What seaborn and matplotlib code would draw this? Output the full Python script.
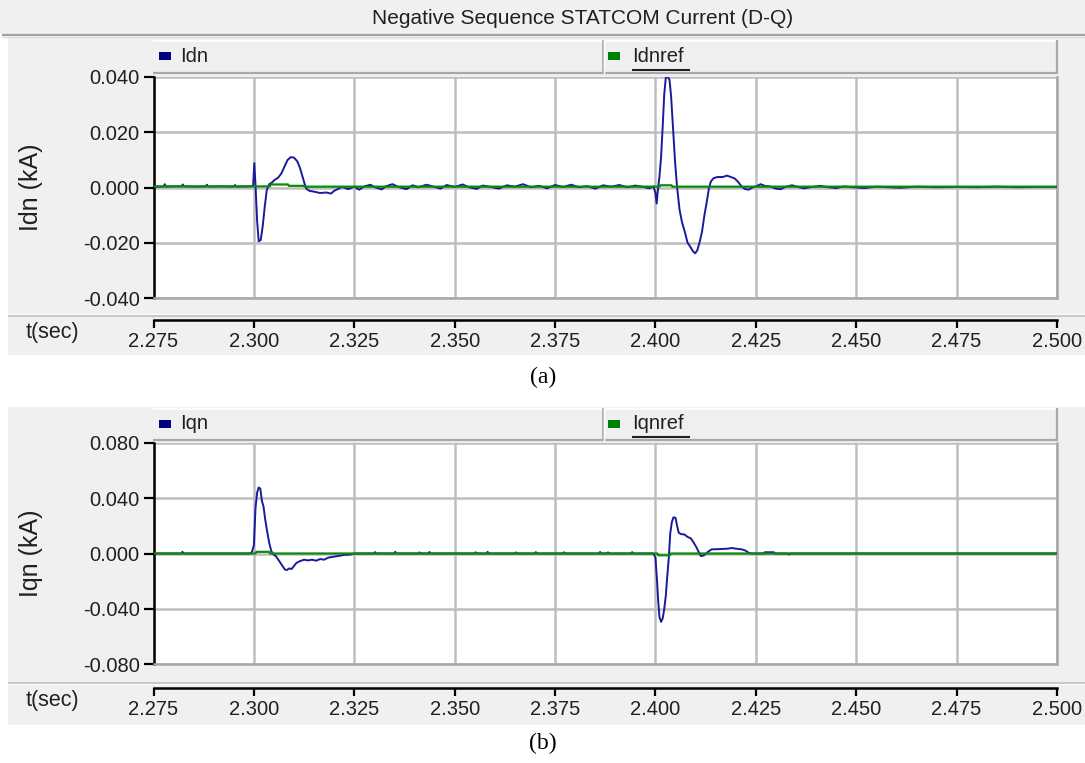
import numpy as np
import pandas as pd
import seaborn as sns
import matplotlib
matplotlib.use("Agg")
import matplotlib.pyplot as plt
from matplotlib.patches import Rectangle
from matplotlib.lines import Line2D

# ---------------- data ----------------
title = "Negative Sequence STATCOM Current (D-Q)"
x_ticks = [2.275, 2.300, 2.325, 2.350, 2.375, 2.400, 2.425, 2.450, 2.475, 2.500]
x_tick_labels = ["2.275", "2.300", "2.325", "2.350", "2.375", "2.400", "2.425", "2.450", "2.475", "2.500"]
yticks_a = [-0.040, -0.020, 0.000, 0.020, 0.040]
yticks_b = [-0.080, -0.040, 0.000, 0.040, 0.080]

t_idn = [2.2750, 2.2775, 2.2778, 2.2781, 2.2800, 2.2820, 2.2823, 2.2826, 2.2860, 2.2880, 2.2883, 2.2886,
         2.2920, 2.2950, 2.2953, 2.2956, 2.2990,
         2.2998, 2.3001, 2.3004, 2.3008, 2.3012, 2.3017, 2.3022, 2.3027, 2.3032, 2.3038, 2.3045, 2.3052,
         2.3060, 2.3068, 2.3076, 2.3084, 2.3092, 2.3100, 2.3108, 2.3115, 2.3120, 2.3126, 2.3131, 2.3138,
         2.3150, 2.3165, 2.3180, 2.3192, 2.3200, 2.3210, 2.3220,
         2.3235, 2.3250, 2.3262, 2.3275, 2.3290, 2.3300, 2.3318, 2.3330, 2.3345, 2.3360, 2.3380, 2.3395,
         2.3410, 2.3430, 2.3450, 2.3465, 2.3480, 2.3500, 2.3520, 2.3535, 2.3555, 2.3570, 2.3590, 2.3610,
         2.3630, 2.3650, 2.3670, 2.3690, 2.3710, 2.3730, 2.3750, 2.3770, 2.3790, 2.3810, 2.3830, 2.3850,
         2.3870, 2.3890, 2.3910, 2.3930, 2.3950, 2.3970, 2.3985,
         2.3995, 2.4000, 2.4003, 2.4006, 2.4010, 2.4014, 2.4018, 2.4022, 2.4026, 2.4031, 2.4035, 2.4039,
         2.4044, 2.4049, 2.4054, 2.4060, 2.4066, 2.4073, 2.4080, 2.4087, 2.4094, 2.4099, 2.4104, 2.4110,
         2.4116, 2.4122, 2.4128, 2.4133, 2.4138, 2.4145, 2.4155, 2.4168, 2.4178, 2.4188, 2.4198, 2.4206,
         2.4214, 2.4222, 2.4232, 2.4240, 2.4252, 2.4262, 2.4272, 2.4285,
         2.4300, 2.4312, 2.4325, 2.4340, 2.4355, 2.4370, 2.4390, 2.4410, 2.4430, 2.4450, 2.4470, 2.4490,
         2.4520, 2.4550, 2.4580, 2.4610, 2.4650, 2.4700, 2.4750, 2.4800, 2.4850, 2.4900, 2.4950, 2.5000]
idn = [0.0003, 0.0003, 0.0012, 0.0003, 0.0004, 0.0004, 0.0011, 0.0004, 0.0003, 0.0004, 0.0010, 0.0003,
       0.0004, 0.0003, 0.0009, 0.0003, 0.0004,
       0.0005, 0.0088, 0.0010, -0.0120, -0.0195, -0.0190, -0.0140, -0.0070, -0.0010, 0.0012, 0.0018, 0.0028,
       0.0035, 0.0050, 0.0075, 0.0100, 0.0110, 0.0108, 0.0095, 0.0070, 0.0045, 0.0015, -0.0005, -0.0012,
       -0.0015, -0.0020, -0.0018, -0.0022, -0.0012, -0.0005, 0.0002,
       -0.0006, 0.0003, -0.0008, 0.0004, 0.0010, 0.0002, -0.0007, 0.0005, 0.0012, 0.0002, -0.0006, 0.0008,
       0.0001, 0.0010, 0.0002, -0.0004, 0.0009, 0.0002, 0.0011, 0.0001, -0.0005, 0.0007, 0.0002, -0.0004,
       0.0008, 0.0003, 0.0012, 0.0001, 0.0006, -0.0003, 0.0009, 0.0002, 0.0010, 0.0001, 0.0005, -0.0004,
       0.0008, 0.0003, 0.0009, 0.0001, 0.0007, 0.0002, -0.0003,
       0.0004, -0.0020, -0.0058, -0.0010, 0.0040, 0.0110, 0.0220, 0.0340, 0.0400, 0.0400, 0.0390, 0.0330,
       0.0210, 0.0090, 0.0000, -0.0080, -0.0125, -0.0160, -0.0200, -0.0215, -0.0232, -0.0238, -0.0228, -0.0198,
       -0.0160, -0.0100, -0.0050, -0.0005, 0.0022, 0.0034, 0.0038, 0.0038, 0.0043, 0.0038, 0.0032, 0.0020,
       0.0005, -0.0005, -0.0008, -0.0001, 0.0005, 0.0012, 0.0006, 0.0004,
       -0.0004, -0.0006, 0.0003, 0.0008, 0.0002, -0.0003, 0.0002, 0.0006, 0.0001, -0.0002, 0.0004, 0.0001,
       -0.0002, 0.0003, 0.0001, -0.0001, 0.0003, 0.0001, 0.0002, 0.0001, 0.0003, 0.0001, 0.0002, 0.0002]

t_idnref = [2.2750, 2.3040, 2.3042, 2.3085, 2.3087, 2.3124, 2.3126, 2.4010, 2.4012, 2.4040, 2.4042, 2.5000]
idnref = [0.0004, 0.0004, 0.0011, 0.0011, 0.0006, 0.0006, 0.0003, 0.0003, 0.0008, 0.0008, 0.0003, 0.0003]

t_iqn = [2.2750, 2.2820, 2.2822, 2.2825, 2.2990,
         2.2995, 2.3000, 2.3004, 2.3008, 2.3012, 2.3016, 2.3020, 2.3024, 2.3028, 2.3033, 2.3038, 2.3043,
         2.3048, 2.3055, 2.3062, 2.3070, 2.3077, 2.3082, 2.3088, 2.3094, 2.3100, 2.3106, 2.3115, 2.3125,
         2.3135, 2.3145, 2.3155, 2.3165, 2.3175, 2.3185, 2.3195, 2.3210, 2.3225, 2.3240, 2.3250,
         2.3300, 2.3302, 2.3305, 2.3350, 2.3352, 2.3355, 2.3410, 2.3412, 2.3415, 2.3435, 2.3437, 2.3440,
         2.3550, 2.3552, 2.3555, 2.3580, 2.3582, 2.3585, 2.3650, 2.3652, 2.3655, 2.3700, 2.3702, 2.3705,
         2.3770, 2.3772, 2.3775, 2.3860, 2.3862, 2.3865, 2.3880, 2.3882, 2.3885, 2.3940, 2.3942, 2.3945,
         2.3995, 2.4000, 2.4004, 2.4007, 2.4010, 2.4014, 2.4018, 2.4022, 2.4026, 2.4029, 2.4033, 2.4037,
         2.4041, 2.4045, 2.4050, 2.4054, 2.4058, 2.4064, 2.4072, 2.4080, 2.4088, 2.4095, 2.4102, 2.4108,
         2.4113, 2.4120, 2.4126, 2.4132, 2.4140, 2.4160, 2.4180, 2.4190, 2.4200, 2.4215, 2.4225, 2.4232,
         2.4240, 2.4270, 2.4272, 2.4295, 2.4297, 2.4330, 2.4332, 2.4336, 2.5000]
iqn = [0.0000, 0.0000, 0.0012, 0.0000, 0.0000,
       0.0010, 0.0060, 0.0330, 0.0440, 0.0478, 0.0470, 0.0380, 0.0340, 0.0250, 0.0160, 0.0080, 0.0020,
       -0.0005, -0.0020, -0.0050, -0.0085, -0.0115, -0.0120, -0.0108, -0.0112, -0.0090, -0.0068, -0.0055, -0.0045,
       -0.0050, -0.0045, -0.0052, -0.0040, -0.0045, -0.0030, -0.0025, -0.0018, -0.0010, -0.0008, 0.0000,
       0.0000, 0.0010, 0.0000, 0.0000, 0.0012, 0.0000, 0.0000, 0.0008, 0.0000, 0.0000, 0.0011, 0.0000,
       0.0000, 0.0009, 0.0000, 0.0000, 0.0012, 0.0000, 0.0000, 0.0008, 0.0000, 0.0000, 0.0010, 0.0000,
       0.0000, 0.0009, 0.0000, 0.0000, 0.0011, 0.0000, 0.0000, 0.0008, 0.0000, 0.0000, 0.0010, 0.0000,
       0.0000, -0.0030, -0.0200, -0.0350, -0.0460, -0.0495, -0.0470, -0.0400, -0.0300, -0.0180, -0.0040, 0.0150,
       0.0230, 0.0262, 0.0258, 0.0200, 0.0150, 0.0140, 0.0138, 0.0120, 0.0110, 0.0080, 0.0045, 0.0010,
       -0.0018, -0.0015, 0.0000, 0.0015, 0.0030, 0.0032, 0.0035, 0.0040, 0.0035, 0.0030, 0.0020, 0.0005,
       0.0000, 0.0000, 0.0009, 0.0009, 0.0000, 0.0000, -0.0007, 0.0000, 0.0000]

t_iqnref = [2.2750, 2.3004, 2.3006, 2.3038, 2.3040, 2.4005, 2.4007, 2.4036, 2.4038, 2.5000]
iqnref = [0.0000, 0.0000, 0.0012, 0.0012, 0.0000, 0.0000, -0.0013, -0.0013, 0.0000, 0.0000]

# ---------------- style ----------------
sns.set_theme(style="white")
plt.rcParams["font.family"] = ["Liberation Sans", "DejaVu Sans"]

W, H = 1085, 763
fig = plt.figure(figsize=(W / 100, H / 100), dpi=100)
fig.patch.set_facecolor("white")

BG = "#f0f0f0"
GRID = "#bebebe"
EDGE = "#a8a8a8"
BLUE = "#1a1a9c"
GREEN = "#0a8a0a"
XLIM = (2.275, 2.500)


def R(x0, y0, x1, y1):
    return [x0 / W, 1 - y1 / H, (x1 - x0) / W, (y1 - y0) / H]


def rect(x0, y0, x1, y1, fc, z=-5):
    fig.patches.append(Rectangle((x0 / W, 1 - y1 / H), (x1 - x0) / W, (y1 - y0) / H,
                                 transform=fig.transFigure, facecolor=fc, edgecolor="none", zorder=z))


def line(x0, y0, x1, y1, c, lw, z=-3):
    fig.lines.append(Line2D([x0 / W, x1 / W], [1 - y0 / H, 1 - y1 / H], transform=fig.transFigure,
                            color=c, lw=lw, zorder=z, solid_capstyle="butt"))


# title bar
rect(0, 0, W, 34, BG)
line(2, 34.5, W, 34.5, "#a0a0a0", 1.6)
line(2, 36.5, W, 36.5, "#dcdcdc", 1.0)
fig.text(583 / W, 1 - 18 / H, title, ha="center", va="center", fontsize=15, color="#202020")


def panel(bg_top, bg_bot, sep_y, leg_top, leg_bot, p_top, p_bot, strip_bot, axis_y,
          t1, v1, t2, v2, name1, name2, ylabel, yticks, ylim, caption, cap_y):
    # background
    rect(8, bg_top, W, bg_bot, BG, z=-6)
    line(8, sep_y, W, sep_y, "#c8c8c8", 1.5, z=-5)
    rect(8, sep_y + 1.5, W, strip_bot, BG, z=-6)
    # legend bar
    rect(153, leg_top, 1057, leg_bot, "#efefef", z=-4)
    line(153, leg_top + 0.5, 1057, leg_top + 0.5, "white", 1.2)
    line(153, leg_bot - 1, 1057, leg_bot - 1, EDGE, 1.6)
    line(1056.5, leg_top, 1056.5, leg_bot, EDGE, 1.6)
    line(602.5, leg_top, 602.5, leg_bot, EDGE, 1.2)
    line(604, leg_top, 604, leg_bot, "white", 1.0)
    ym = (leg_top + leg_bot) / 2 - 1
    rect(159, ym - 4, 171, ym + 4, "#000080", z=-2)
    fig.text(180 / W, 1 - ym / H, name1, ha="left", va="center", fontsize=14.5, color="#202020")
    rect(608, ym - 4, 620, ym + 4, "#008000", z=-2)
    fig.text(632 / W, 1 - ym / H, name2, ha="left", va="center", fontsize=14.5, color="#202020")
    line(632, leg_bot - 4, 690, leg_bot - 4, "#202020", 1.5, z=-2)

    # main axes
    ax = fig.add_axes(R(153.5, p_top, 1057, p_bot))
    ax.set_facecolor("white")
    df1 = pd.DataFrame({"t": t1, "v": v1})
    df2 = pd.DataFrame({"t": t2, "v": v2})
    sns.lineplot(data=df1, x="t", y="v", ax=ax, color=BLUE, lw=1.4, estimator=None, sort=False, zorder=3)
    sns.lineplot(data=df2, x="t", y="v", ax=ax, color=GREEN, lw=1.6, estimator=None, sort=False, zorder=4)
    ax.set_xlim(*XLIM)
    ax.set_ylim(*ylim)
    ax.set_xticks(x_ticks)
    ax.set_yticks(yticks)
    ax.set_yticklabels([f"{v:.3f}" for v in yticks])
    ax.grid(True, color=GRID, lw=1.8, zorder=0)
    ax.set_axisbelow(True)
    ax.tick_params(axis="x", length=0, labelbottom=False)
    ax.tick_params(axis="y", direction="out", length=7, width=1.6, color="black", pad=3,
                   labelsize=14.5, labelcolor="#202020", left=True)
    ax.set_xlabel("")
    ax.set_ylabel("")
    ax.spines["top"].set_visible(False)
    ax.spines["left"].set_color("black")
    ax.spines["left"].set_linewidth(1.8)
    ax.spines["right"].set_color(EDGE)
    ax.spines["right"].set_linewidth(1.8)
    ax.spines["bottom"].set_color(EDGE)
    ax.spines["bottom"].set_linewidth(1.8)
    fig.text(31 / W, 1 - ((p_top + p_bot) / 2) / H, ylabel, rotation=90, ha="center", va="center",
             fontsize=18, color="#202020")

    # x-axis strip
    axx = fig.add_axes(R(153.5, axis_y - 10, 1057, axis_y))
    axx.patch.set_visible(False)
    axx.set_xlim(*XLIM)
    axx.set_xticks(x_ticks)
    axx.set_xticklabels(x_tick_labels)
    axx.set_yticks([])
    for s in ["top", "left", "right"]:
        axx.spines[s].set_visible(False)
    axx.spines["bottom"].set_color("black")
    axx.spines["bottom"].set_linewidth(1.8)
    axx.tick_params(axis="x", direction="out", length=6, width=1.6, color="black", pad=2.8,
                    labelsize=14.5, labelcolor="#202020", bottom=True)
    fig.text(52 / W, 1 - (axis_y + 13) / H, "t(sec)", ha="center", va="center", fontsize=15.5,
             color="#202020")
    fig.text(543 / W, 1 - cap_y / H, caption, ha="center", va="center", fontsize=17,
             family=["Liberation Serif", "DejaVu Serif"], color="black")


panel(38, 314, 315.5, 40, 74, 77, 298, 355, 319.5,
      t_idn, idn, t_idnref, idnref, "Idn", "Idnref", "Idn (kA)", yticks_a, (-0.040, 0.040), "(a)", 377)
panel(407, 682, 683, 408, 441, 443, 664, 725, 687.5,
      t_iqn, iqn, t_iqnref, iqnref, "Iqn", "Iqnref", "Iqn (kA)", yticks_b, (-0.080, 0.080), "(b)", 743)

fig.savefig("out.png", dpi=100, facecolor="white")
